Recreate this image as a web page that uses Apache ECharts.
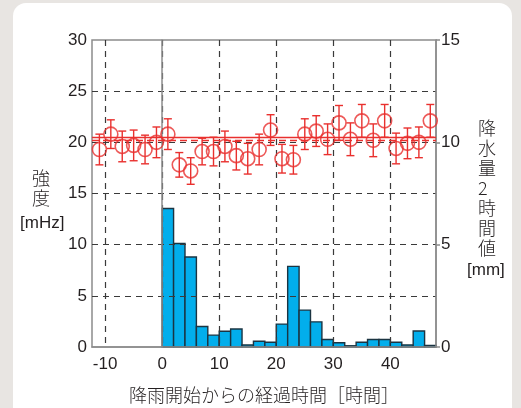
<!DOCTYPE html>
<html><head><meta charset="utf-8">
<script src="https://cdn.jsdelivr.net/npm/echarts@6/dist/echarts.min.js"></script>
<style>html,body{margin:0;padding:0;background:#e8e5e2;}#c{width:521px;height:408px;}</style>
</head><body><div id="c"></div>
<script>
// ---- data ----
const xTicks = [-10, 0, 10, 20, 30, 40];
const binStart = [0,2,4,6,8,10,12,14,16,18,20,22,24,26,28,30,32,34,36,38,40,42,44,46];
const rainMm = [6.77,5.06,4.4,1.0,0.58,0.77,0.88,0.1,0.28,0.23,1.12,3.94,1.8,1.23,0.37,0.21,0.06,0.23,0.37,0.37,0.23,0.1,0.78,0.08];
const ptX = [-11,-9,-7,-5,-3,-1,1,3,5,7,9,11,13,15,17,19,21,23,25,27,29,31,33,35,37,39,41,43,45,47];
const ptMHz = [19.3,20.8,19.6,19.7,19.3,20.0,20.8,17.8,17.2,19.1,19.1,19.6,18.7,18.4,19.3,21.2,18.4,18.3,20.8,21.1,20.3,21.9,20.3,22.1,20.2,22.1,19.4,19.9,20.0,22.1];
const ptErr = [1.5,1.4,1.5,1.5,1.4,1.5,1.5,1.2,1.3,1.3,1.4,1.5,1.4,1.5,1.5,1.5,1.4,1.4,1.5,1.5,1.5,1.7,1.6,1.6,1.6,1.6,1.5,1.5,1.5,1.6];
const meanSolid = 20.45;
const meanDashed = 20.2;

const RED = '#e9302e';
const FONT = '"Liberation Sans", "Noto Sans CJK JP", sans-serif';
const JP = '"Noto Sans CJK JP", sans-serif';
const TXT = '#231f20';
const AX = '#8c8c8c';

const barData = binStart.map((s, i) => [s, s + 2, rainMm[i]]);
const ptData = ptX.map((x, i) => [x, ptMHz[i]]);
const errData = ptX.map((x, i) => [x, ptMHz[i] - ptErr[i], ptMHz[i] + ptErr[i]]);

const chart = echarts.init(document.getElementById('c'), null, {renderer: 'canvas'});
chart.setOption({
  backgroundColor: '#e8e5e2',
  animation: false,
  graphic: [
    {type: 'rect', z: -10, shape: {x: 13, y: 3, width: 499, height: 430, r: 13}, style: {fill: '#ffffff'}},
    {type: 'text', left: 32, top: 168, style: {text: '強\n度', font: '300 18px ' + JP, lineHeight: 20, fill: TXT, align: 'center'}},
    {type: 'text', left: 20, top: 215, style: {text: '[mHz]', font: '17px ' + FONT, fill: TXT}},
    {type: 'text', left: 478, top: 118, style: {text: '降\n水\n量\n2\n時\n間\n値', font: '300 18px ' + JP, lineHeight: 20, fill: TXT, align: 'center'}},
    {type: 'text', left: 467, top: 262, style: {text: '[mm]', font: '17px ' + FONT, fill: TXT}},
    {type: 'text', left: 129, top: 386, style: {text: '降雨開始からの経過時間［時間］', font: '300 18px ' + JP, fill: TXT}}
  ],
  grid: {left: 92, right: 85, top: 40, bottom: 61, show: true, borderColor: AX, borderWidth: 1.5, backgroundColor: 'transparent'},
  xAxis: {
    type: 'value', min: -12.3, max: 48, z: 3,
    axisLine: {show: true, onZero: false, lineStyle: {color: AX, width: 1.5}},
    axisTick: {show: false, customValues: xTicks},
    axisLabel: {customValues: xTicks, color: TXT, fontSize: 17, fontFamily: FONT, margin: 9},
    splitLine: {show: true, lineStyle: {color: '#3a3a3a', type: [6, 5], width: 1.2}}
  },
  yAxis: [
    {
      type: 'value', min: 0, max: 30, interval: 5, z: 3, position: 'left',
      axisLine: {show: true, lineStyle: {color: AX, width: 1.5}},
      axisTick: {show: false},
      axisLabel: {color: TXT, fontSize: 17, fontFamily: FONT, margin: 5},
      splitLine: {show: true, showMinLine: false, showMaxLine: false, lineStyle: {color: '#3a3a3a', type: [6, 5], width: 1.2}}
    },
    {
      type: 'value', min: 0, max: 15, interval: 5, z: 3, position: 'right',
      axisLine: {show: true, lineStyle: {color: AX, width: 1.5}},
      axisTick: {show: true, length: 4, lineStyle: {color: AX, width: 1.5}},
      axisLabel: {color: TXT, fontSize: 17, fontFamily: FONT, margin: 5},
      splitLine: {show: false}
    }
  ],
  series: [
    {
      type: 'custom', yAxisIndex: 1, z: 2,
      data: barData,
      encode: {x: [0, 1], y: 2},
      renderItem: function (params, api) {
        const p0 = api.coord([api.value(0), api.value(2)]);
        const p1 = api.coord([api.value(1), 0]);
        return {type: 'rect', shape: {x: p0[0], y: p0[1], width: p1[0] - p0[0], height: p1[1] - p0[1]},
          style: {fill: '#02aeec', stroke: '#1b3442', lineWidth: 1.4}};
      }
    },
    {
      type: 'custom', yAxisIndex: 0, z: 6,
      data: errData,
      encode: {x: 0, y: [1, 2]},
      renderItem: function (params, api) {
        const x = api.value(0);
        const lo = api.coord([x, api.value(1)]);
        const hi = api.coord([x, api.value(2)]);
        const w = 4;
        const st = {stroke: RED, lineWidth: 1.4};
        return {type: 'group', children: [
          {type: 'line', shape: {x1: lo[0], y1: lo[1], x2: hi[0], y2: hi[1]}, style: st},
          {type: 'line', shape: {x1: lo[0] - w, y1: lo[1], x2: lo[0] + w, y2: lo[1]}, style: st},
          {type: 'line', shape: {x1: hi[0] - w, y1: hi[1], x2: hi[0] + w, y2: hi[1]}, style: st}
        ]};
      }
    },
    {
      type: 'scatter', yAxisIndex: 0, z: 7,
      data: ptData,
      symbol: 'circle', symbolSize: 14,
      itemStyle: {color: 'transparent', borderColor: RED, borderWidth: 1.6},
      markLine: {
        silent: true, symbol: 'none', label: {show: false}, animation: false,
        data: [
          {yAxis: meanSolid, lineStyle: {color: RED, type: 'solid', width: 1.3}},
          {yAxis: meanDashed, lineStyle: {color: RED, type: [7, 4], width: 1.3}}
        ]
      }
    }
  ]
});
</script>
</body></html>
